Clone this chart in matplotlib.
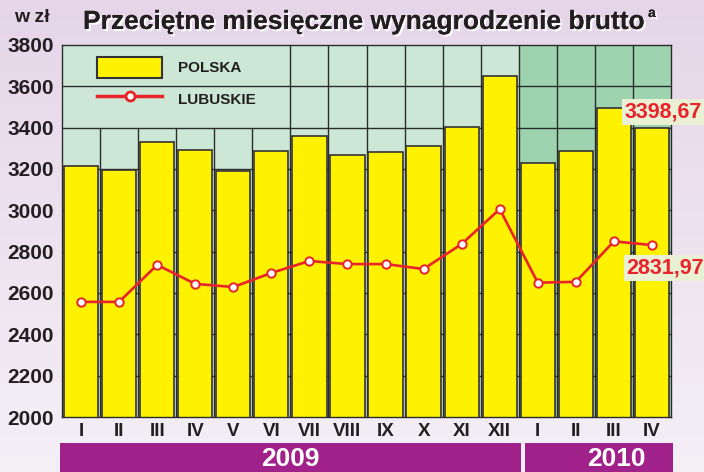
import matplotlib
matplotlib.use("Agg")
import matplotlib.pyplot as plt
import matplotlib.patheffects as pe
from matplotlib.patches import Rectangle
from matplotlib.lines import Line2D
import numpy as np

plt.rcParams["font.family"] = ["Liberation Sans", "DejaVu Sans"]
plt.rcParams["font.weight"] = "bold"

months = ["I", "II", "III", "IV", "V", "VI", "VII", "VIII", "IX", "X", "XI", "XII",
          "I", "II", "III", "IV"]
years = ["2009", "2010"]
months_per_year = [12, 4]
polska = [3213, 3194, 3332, 3294, 3190, 3287, 3361, 3268, 3281, 3311, 3403, 3651,
          3229, 3289, 3494, 3398.67]
lubuskie = [2557, 2557, 2736, 2644, 2629, 2697, 2755, 2740, 2740, 2716, 2837, 3006,
            2650, 2654, 2850, 2831.97]
label_polska = "3398,67"
label_lubuskie = "2831,97"

RED = "#e8232a"
YELLOW = "#fff200"
GRID = "#2b2b2b"
INK = "#231f20"

fig = plt.figure(figsize=(7.04, 4.72), dpi=100)

# lavender gradient background
bg = fig.add_axes([0, 0, 1, 1], zorder=-10)
grad = np.linspace(0, 1, 256)[:, None]
cmap = matplotlib.colors.LinearSegmentedColormap.from_list("bg", ["#e6d5e9", "#f4f0f6"])
bg.imshow(grad, aspect="auto", cmap=cmap, extent=[0, 1, 0, 1])
bg.set_axis_off()

ax = fig.add_axes([62 / 704, 1 - 417 / 472, 609 / 704, 372 / 472])
x = np.arange(len(months))
n2009 = months_per_year[0]

ax.set_xlim(-0.5, len(months) - 0.5)
ax.set_ylim(2000, 3800)
ax.set_facecolor("#cce7d5")
ax.axvspan(n2009 - 0.5, len(months) - 0.5, color="#9dd3af", zorder=0)

for yv in range(2200, 3800, 200):
    ax.axhline(yv, color=GRID, lw=1, zorder=1)
for b in np.arange(0.5, len(months) - 0.5, 1.0):
    top = 3400 if b < 5 else 3800
    ax.vlines(b, 2000, top, color=GRID, lw=1, zorder=1)

ax.bar(x, polska, width=0.9, color=YELLOW, edgecolor="#333333", lw=1.2, zorder=2)
ax.plot(x, lubuskie, color=RED, lw=1.9, marker="o", ms=6, mfc="white", mec=RED,
        mew=1.4, zorder=4, clip_on=False)

ax.set_yticks(range(2000, 3801, 200))
ax.tick_params(axis="y", length=0, labelsize=15, pad=6, labelcolor=INK)
ax.set_xticks(x)
ax.set_xticklabels(months)
ax.tick_params(axis="x", length=0, labelsize=13.5, pad=4, labelcolor=INK)
for s in ax.spines.values():
    s.set_color(GRID)
    s.set_linewidth(1)
    s.set_zorder(5)

handles = [Rectangle((0, 0), 1, 1, fc=YELLOW, ec="#333333", lw=1.5),
           Line2D([], [], color=RED, lw=2.5, marker="o", ms=6.5, mfc="white", mec=RED, mew=2)]
ax.legend(handles, ["POLSKA", "LUBUSKIE"], loc="upper left",
          bbox_to_anchor=(0.057, 0.968), frameon=False,
          handlelength=4.3, handleheight=1.7, handletextpad=1.0, labelspacing=0.72,
          borderpad=0, borderaxespad=0, numpoints=1,
          prop={"weight": "bold", "size": 11}, labelcolor=INK)

box = dict(boxstyle="square,pad=0.12", fc="#e9f0d3", ec="none")
ax.annotate(label_polska, xy=(x[-1], polska[-1]), xytext=(8, 11.5),
            textcoords="offset points", ha="center", va="center", fontsize=15.5,
            color=RED, bbox=box, zorder=6, annotation_clip=False)
ax.annotate(label_lubuskie, xy=(x[-1], lubuskie[-1]), xytext=(9.5, -16.5),
            textcoords="offset points", ha="center", va="center", fontsize=15.5,
            color=RED, bbox=box, zorder=6, annotation_clip=False)

# year band
band_h = (472 - 443) / 472
fig.patches.append(Rectangle((60 / 704, 0), (521 - 60) / 704, band_h,
                             transform=fig.transFigure, fc="#a0218a", ec="none"))
fig.patches.append(Rectangle((525 / 704, 0), (673 - 525) / 704, band_h,
                             transform=fig.transFigure, fc="#a0218a", ec="none"))
fig.text(290 / 704, 1 - 459 / 472, years[0], color="white", fontsize=19,
         ha="center", va="center")
fig.text(616 / 704, 1 - 459 / 472, years[1], color="white", fontsize=19,
         ha="center", va="center")

shadow = [pe.withSimplePatchShadow(offset=(1.5, -1.5), shadow_rgbFace="white", alpha=1),
          pe.Normal()]
fig.text(83 / 704, 1 - 22 / 472, "Przeciętne miesięczne wynagrodzenie brutto",
         fontsize=19, color=INK, ha="left", va="center", path_effects=shadow)
fig.text(648 / 704, 1 - 13 / 472, "a", fontsize=10, color=INK, ha="left",
         va="center", path_effects=shadow)
fig.text(32 / 704, 1 - 18 / 472, "w zł", fontsize=14, color=INK,
         ha="center", va="center")

fig.savefig("out.png", dpi=100)
